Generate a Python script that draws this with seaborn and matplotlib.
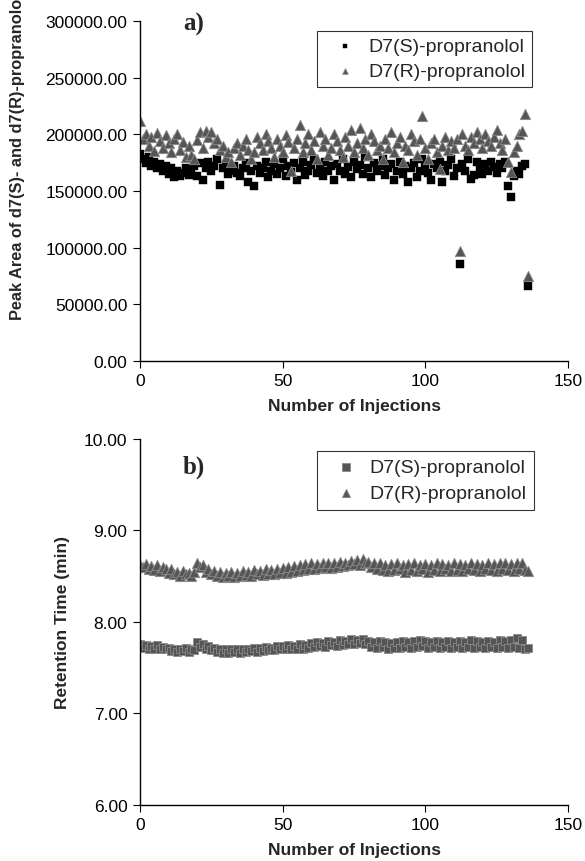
import numpy as np
import pandas as pd
import matplotlib
matplotlib.use("Agg")
import matplotlib.pyplot as plt
import seaborn as sns

sns.set_theme(style="white")
plt.rcParams['font.family'] = ['Liberation Sans', 'DejaVu Sans']

injections = list(range(137))

s_area = [183000, 178000, 175000, 180000, 172000, 176000, 170000, 174000, 168000, 172000,
          165000, 170000, 162000, 168000, 163000, 166000, 170000, 164000, 168000, 172000,
          163000, 175000, 160000, 170000, 176000, 168000, 172000, 178000, 155000, 170000,
          174000, 165000, 168000, 172000, 166000, 163000, 170000, 175000, 158000, 168000,
          154000, 172000, 166000, 170000, 176000, 162000, 168000, 174000, 165000, 170000,
          178000, 163000, 172000, 167000, 175000, 160000, 170000, 176000, 164000, 168000,
          173000, 178000, 166000, 170000, 163000, 176000, 168000, 172000, 160000, 174000,
          168000, 178000, 165000, 171000, 162000, 176000, 169000, 173000, 165000, 180000,
          170000, 162000, 175000, 168000, 172000, 178000, 164000, 170000, 174000, 160000,
          168000, 176000, 165000, 172000, 158000, 170000, 175000, 162000, 168000, 178000,
          172000, 166000, 160000, 174000, 170000, 176000, 158000, 168000, 173000, 178000,
          163000, 170000, 86000, 174000, 168000, 178000, 161000, 164000, 176000, 170000,
          165000, 174000, 168000, 176000, 171000, 166000, 174000, 170000, 176000, 154000,
          145000, 163000, 168000, 165000, 172000, 174000, 66000]

r_area = [212000, 196000, 200000, 190000, 198000, 185000, 201000, 194000, 188000, 199000,
          192000, 184000, 196000, 200000, 186000, 193000, 180000, 190000, 182000, 178000,
          195000, 202000, 188000, 203000, 198000, 202000, 192000, 196000, 186000, 190000,
          180000, 184000, 176000, 188000, 192000, 182000, 190000, 196000, 186000, 178000,
          184000, 198000, 192000, 186000, 200000, 194000, 188000, 180000, 196000, 190000,
          184000, 199000, 193000, 168000, 188000, 196000, 208000, 184000, 192000, 200000,
          186000, 194000, 178000, 202000, 190000, 196000, 182000, 188000, 200000, 194000,
          186000, 180000, 198000, 190000, 204000, 184000, 192000, 206000, 188000, 196000,
          182000, 200000, 194000, 186000, 190000, 178000, 196000, 188000, 202000, 184000,
          192000, 198000, 176000, 190000, 186000, 200000, 194000, 182000, 196000, 216000,
          188000, 178000, 192000, 196000, 184000, 169000, 190000, 198000, 186000, 194000,
          188000, 196000, 97000, 200000, 190000, 186000, 198000, 192000, 202000, 196000,
          188000, 200000, 194000, 190000, 198000, 204000, 192000, 186000, 196000, 176000,
          167000, 184000, 190000, 200000, 203000, 218000, 75000]

s_rt = [7.76, 7.72, 7.75, 7.71, 7.74, 7.70, 7.75, 7.71, 7.73, 7.70,
        7.72, 7.68, 7.71, 7.67, 7.70, 7.68, 7.72, 7.67, 7.71, 7.69,
        7.78, 7.73, 7.76, 7.70, 7.74, 7.69, 7.72, 7.67, 7.71, 7.66,
        7.70, 7.66, 7.70, 7.67, 7.71, 7.66, 7.70, 7.67, 7.71, 7.68,
        7.72, 7.67, 7.72, 7.68, 7.73, 7.69, 7.72, 7.69, 7.74, 7.70,
        7.74, 7.70, 7.75, 7.71, 7.74, 7.70, 7.76, 7.71, 7.75, 7.72,
        7.77, 7.73, 7.78, 7.74, 7.77, 7.73, 7.79, 7.75, 7.78, 7.74,
        7.80, 7.75, 7.79, 7.76, 7.81, 7.76, 7.80, 7.77, 7.81, 7.76,
        7.79, 7.73, 7.78, 7.72, 7.79, 7.73, 7.78, 7.71, 7.77, 7.72,
        7.78, 7.72, 7.79, 7.73, 7.78, 7.72, 7.79, 7.73, 7.80, 7.74,
        7.79, 7.72, 7.78, 7.73, 7.79, 7.72, 7.78, 7.73, 7.79, 7.72,
        7.78, 7.73, 7.79, 7.72, 7.78, 7.73, 7.80, 7.72, 7.79, 7.73,
        7.78, 7.72, 7.79, 7.73, 7.78, 7.72, 7.80, 7.73, 7.79, 7.72,
        7.80, 7.73, 7.82, 7.72, 7.80, 7.71, 7.72]

r_rt = [8.62, 8.60, 8.63, 8.58, 8.61, 8.57, 8.62, 8.56, 8.60, 8.58,
        8.54, 8.58, 8.52, 8.55, 8.50, 8.56, 8.52, 8.54, 8.50, 8.55,
        8.64, 8.60, 8.62, 8.55, 8.58, 8.52, 8.56, 8.50, 8.55, 8.49,
        8.54, 8.50, 8.55, 8.49, 8.54, 8.50, 8.56, 8.51, 8.55, 8.50,
        8.57, 8.52, 8.56, 8.51, 8.58, 8.53, 8.57, 8.52, 8.58, 8.54,
        8.59, 8.54, 8.60, 8.55, 8.61, 8.56, 8.62, 8.57, 8.63, 8.58,
        8.64, 8.58, 8.63, 8.59, 8.65, 8.60, 8.64, 8.59, 8.65, 8.60,
        8.66, 8.61, 8.65, 8.62, 8.67, 8.63, 8.68, 8.62, 8.69, 8.64,
        8.66, 8.60, 8.65, 8.58, 8.64, 8.57, 8.62, 8.56, 8.63, 8.57,
        8.64, 8.58, 8.62, 8.55, 8.63, 8.57, 8.64, 8.56, 8.62, 8.58,
        8.63, 8.55, 8.62, 8.57, 8.64, 8.56, 8.63, 8.58, 8.62, 8.56,
        8.64, 8.57, 8.63, 8.56, 8.62, 8.58, 8.64, 8.57, 8.63, 8.56,
        8.62, 8.58, 8.64, 8.57, 8.63, 8.56, 8.65, 8.58, 8.64, 8.57,
        8.63, 8.56, 8.64, 8.58, 8.65, 8.57, 8.56]

area_ticks = [0, 50000, 100000, 150000, 200000, 250000, 300000]
rt_ticks = [6.0, 7.0, 8.0, 9.0, 10.0]
x_ticks = [0, 50, 100, 150]
label_s = "D7(S)-propranolol"
label_r = "D7(R)-propranolol"

W, H = 585, 862
fig = plt.figure(figsize=(W / 100, H / 100), dpi=100)

def px_axes(left, top, right, bottom):
    return fig.add_axes([left / W, 1 - bottom / H, (right - left) / W, (bottom - top) / H])

ax1 = px_axes(140, 22, 568, 362)
ax2 = px_axes(140, 440, 568, 806)

df_area = pd.DataFrame({"inj": injections * 2,
                        "val": s_area + r_area,
                        "series": [label_s] * 137 + [label_r] * 137})
df_rt = pd.DataFrame({"inj": injections * 2,
                      "val": s_rt + r_rt,
                      "series": [label_s] * 137 + [label_r] * 137})

sns.scatterplot(data=df_area[df_area.series == label_s], x="inj", y="val", ax=ax1,
                marker="s", color="black", s=40, linewidth=0.3, edgecolor="black", label=label_s)
sns.scatterplot(data=df_area[df_area.series == label_r], x="inj", y="val", ax=ax1,
                marker="^", color="#555555", s=55, linewidth=0.6, edgecolor="#8a8a8a", label=label_r)

sns.scatterplot(data=df_rt[df_rt.series == label_s], x="inj", y="val", ax=ax2,
                marker="s", color="#555555", s=40, linewidth=0.6, edgecolor="#8a8a8a", label=label_s)
sns.scatterplot(data=df_rt[df_rt.series == label_r], x="inj", y="val", ax=ax2,
                marker="^", color="#555555", s=55, linewidth=0.6, edgecolor="#8a8a8a", label=label_r)

FS = 12.5
for ax in (ax1, ax2):
    ax.set_xlim(0, 150)
    ax.set_xticks(x_ticks)
    ax.set_xticklabels([str(t) for t in x_ticks], fontsize=FS)
    for s in ("top", "right"):
        ax.spines[s].set_visible(False)
    for s in ("left", "bottom"):
        ax.spines[s].set_color("black")
        ax.spines[s].set_linewidth(1.0)
    ax.tick_params(axis="both", direction="out", length=5, width=0.8, colors="black",
                   labelsize=FS, left=True, bottom=True, pad=4)
    ax.set_xlabel("Number of Injections", fontsize=12.5, fontweight="bold", labelpad=7)
    ax.set_ylabel("")
    ax.set_facecolor("white")
    ax.grid(False)

ax1.set_ylim(0, 300000)
ax1.set_yticks(area_ticks)
ax1.set_yticklabels([f"{t:.2f}" for t in area_ticks], fontsize=FS)
ax2.set_ylim(6, 10)
ax2.set_yticks(rt_ticks)
ax2.set_yticklabels([f"{t:.2f}" for t in rt_ticks], fontsize=FS)

leg1 = ax1.legend(loc="upper left", bbox_to_anchor=((317 - 140) / 428, 1 - (32 - 22) / 340),
                  frameon=True, fancybox=False, edgecolor="black", fontsize=14,
                  handletextpad=0.1, borderpad=0.35, labelspacing=0.35, markerscale=0.55,
                  handlelength=2.2, borderaxespad=0)
leg1.get_frame().set_linewidth(0.8)
leg2 = ax2.legend(loc="upper left", bbox_to_anchor=((317 - 140) / 428, 1 - (452 - 440) / 366),
                  frameon=True, fancybox=False, edgecolor="black", fontsize=14,
                  handletextpad=0.1, borderpad=0.4, labelspacing=0.4, markerscale=0.8,
                  handlelength=2.2, borderaxespad=0)
leg2.get_frame().set_linewidth(0.8)

fig.text(18 / W, 1 - 320 / H, "Peak Area of d7(S)- and d7(R)-propranolol", rotation=90,
         fontsize=11.8, fontweight="bold", ha="center", va="bottom")
fig.text(62 / W, 1 - 623 / H, "Retention Time (min)", rotation=90,
         fontsize=12.5, fontweight="bold", ha="center", va="center")

fig.text(183 / W, 1 - 24 / H, "a)", fontsize=18, fontweight="bold",
         family=["Liberation Serif", "DejaVu Serif"], ha="left", va="center")
fig.text(183 / W, 1 - 467 / H, "b)", fontsize=18, fontweight="bold",
         family=["Liberation Serif", "DejaVu Serif"], ha="left", va="center")

fig.savefig("out.png", dpi=100, facecolor="white")
